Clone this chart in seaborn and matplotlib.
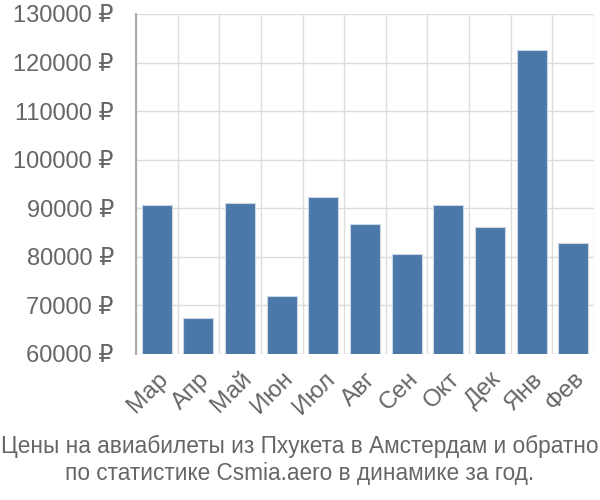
import matplotlib
matplotlib.use("Agg")
import matplotlib.pyplot as plt
import seaborn as sns
import pandas as pd
import numpy as np
from matplotlib.ticker import FixedLocator, FuncFormatter

months = ["Мар", "Апр", "Май", "Июн", "Июл", "Авг", "Сен", "Окт", "Дек", "Янв", "Фев"]
prices = [90600, 67350, 91000, 72000, 92300, 86800, 80500, 90700, 86100, 122600, 82900]
yticks = [60000, 70000, 80000, 90000, 100000, 110000, 120000, 130000]
title = "Цены на авиабилеты из Пхукета в Амстердам и обратно\nпо статистике Csmia.aero в динамике за год."

sns.set_theme(style="white")
plt.rcParams['font.family'] = ['Liberation Sans', 'DejaVu Sans']

df = pd.DataFrame({"month": months, "price": prices})

fig = plt.figure(figsize=(6, 5), dpi=100)
ax = fig.add_axes([136/600, 1-354/500, (594-136)/600, (354-14)/500])

sns.barplot(data=df, x="month", y="price", color="#4c78a8", saturation=1,
            width=0.72, edgecolor="#c9d6e6", linewidth=0.8, ax=ax, zorder=3)

ax.set_ylim(60000, 130000)
ax.set_xlim(-0.5, len(months) - 0.5)
ax.set_yticks(yticks)
ax.yaxis.set_major_formatter(FuncFormatter(lambda v, p: f"{int(v)} ₽"))
ax.xaxis.set_minor_locator(FixedLocator(np.arange(-0.5, len(months), 1.0)))
ax.grid(True, axis="y", color="#dddddd", linewidth=1, zorder=0)
ax.grid(True, axis="x", which="minor", color="#dddddd", linewidth=1, zorder=0)
ax.grid(False, axis="x", which="major")
ax.set_axisbelow(True)

for s in ["top", "right", "bottom"]:
    ax.spines[s].set_visible(False)
ax.spines["left"].set_color("#aaaaaa")
ax.spines["left"].set_linewidth(1.5)

ax.tick_params(axis="y", length=14, color="#dddddd", width=1, pad=2, labelsize=17, labelcolor="#666666")
ax.tick_params(axis="x", which="major", length=0, pad=10, labelsize=17.5, labelcolor="#666666")
ax.tick_params(axis="x", which="minor", length=14, color="#dddddd", width=1)
plt.setp(ax.get_xticklabels(), rotation=45, ha="right", rotation_mode="anchor")
ax.set_xlabel("")
ax.set_ylabel("")

fig.text(0.5, 1 - 460/500, title, ha="center", va="center", fontsize=16.3,
         color="#666666", linespacing=1.2)

fig.savefig("out.png", dpi=100)
